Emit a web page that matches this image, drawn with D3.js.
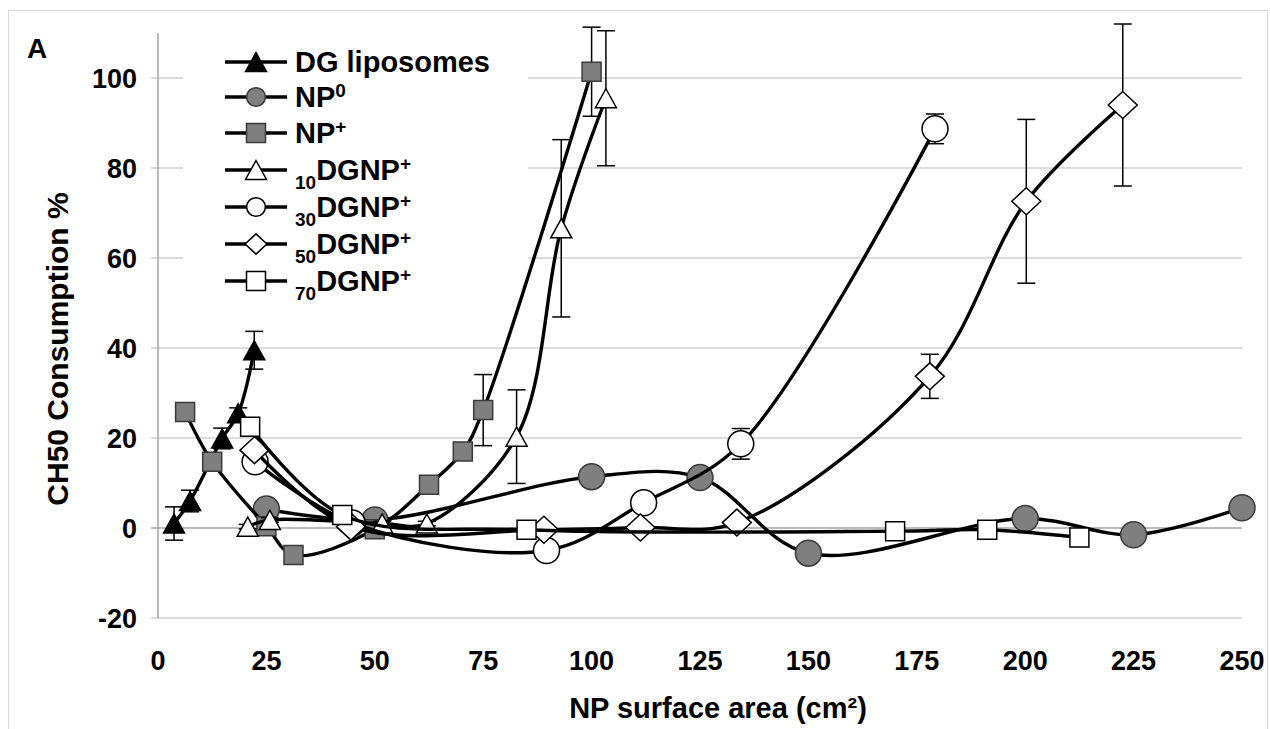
<!DOCTYPE html>
<html>
<head>
<meta charset="utf-8">
<script src="https://cdn.jsdelivr.net/npm/d3@7"></script>
<style>
  body { margin: 0; background: #fff; }
  text { font-family: "Liberation Sans", Arial, sans-serif; font-weight: bold; fill: #000; }
</style>
</head>
<body>
<svg id="chart" width="1270" height="729"></svg>
<script>
// values (x = NP surface area cm2, y = CH50 consumption %)
var dgX = [3.7, 7.4, 14.8, 18.5, 22.2];
var dgY = [1.0, 6.0, 19.9, 25.5, 39.5];
var dgErr = [3.7, 2.4, 2.3, 1.2, 4.2];

var np0X = [25, 50, 100, 125, 150, 200, 225, 250];
var np0Y = [4.2, 1.8, 11.4, 11.2, -5.6, 2.1, -1.5, 4.5];
var np0Err = [0.5, 0.5, 0.5, 0.5, 0.5, 0.5, 0.5, 0.5];

var npPlusX = [6.25, 12.5, 25, 31.25, 50, 62.5, 70.3, 75, 100];
var npPlusY = [25.8, 14.7, 0.4, -6.0, -0.3, 9.6, 17.0, 26.2, 101.4];
var npPlusErr = [0.5, 0.5, 0.5, 0.5, 0.5, 0.5, 0.5, 7.9, 9.9];

var dg10X = [20.7, 25.8, 51.7, 62, 82.7, 93, 103.3];
var dg10Y = [0.3, 1.8, 1.0, 1.0, 20.3, 66.6, 95.5];
var dg10Err = [0.5, 0.5, 0.5, 0.5, 10.4, 19.7, 15];

var dg30X = [22.4, 44.8, 89.6, 112, 134.4, 179.2];
var dg30Y = [14.7, 1.1, -5.0, 5.6, 18.7, 88.7];
var dg30Err = [0.5, 0.5, 0.5, 0.5, 3.4, 3.3];

var dg50X = [22.25, 44.5, 89, 111.25, 133.5, 178, 200.25, 222.5];
var dg50Y = [17.3, 0.3, -0.4, 0.1, 1.2, 33.7, 72.6, 94.0];
var dg50Err = [0.5, 0.5, 0.5, 0.5, 0.5, 4.9, 18.2, 18];

var dg70X = [21.25, 42.5, 85, 170, 191.25, 212.5];
var dg70Y = [22.5, 2.9, -0.4, -0.7, -0.4, -2.1];
var dg70Err = [0.5, 0.5, 0.5, 0.5, 0.5, 0.5];

var xTicks = [0, 25, 50, 75, 100, 125, 150, 175, 200, 225, 250];
var yTicks = [-20, 0, 20, 40, 60, 80, 100];

// legend labels: [subscript, main, superscript]
var seriesNames = [
  ["", "DG liposomes", ""],
  ["", "NP", "0"],
  ["", "NP", "+"],
  ["10", "DGNP", "+"],
  ["30", "DGNP", "+"],
  ["50", "DGNP", "+"],
  ["70", "DGNP", "+"]
];

var series = [
  { x: dgX, y: dgY, err: dgErr, shape: "triangle", fill: "#000" },
  { x: np0X, y: np0Y, err: np0Err, shape: "circle", fill: "#7f7f7f" },
  { x: npPlusX, y: npPlusY, err: npPlusErr, shape: "square", fill: "#7f7f7f" },
  { x: dg10X, y: dg10Y, err: dg10Err, shape: "triangle", fill: "#fff" },
  { x: dg30X, y: dg30Y, err: dg30Err, shape: "circle", fill: "#fff" },
  { x: dg50X, y: dg50Y, err: dg50Err, shape: "diamond", fill: "#fff" },
  { x: dg70X, y: dg70Y, err: dg70Err, shape: "square", fill: "#fff" }
];

var svg = d3.select("#chart");

// outer frame
svg.append("rect").attr("x", 8.5).attr("y", 10.5).attr("width", 1259).attr("height", 730)
  .attr("fill", "none").attr("stroke", "#d9d9d9").attr("stroke-width", 1);

var xScale = d3.scaleLinear().domain([0, 250]).range([158, 1242]);
var yScale = d3.scaleLinear().domain([-20, 110]).range([618, 33]);

// gridlines
svg.append("g").selectAll("line").data(yTicks).enter().append("line")
  .attr("x1", 151).attr("x2", xScale(250))
  .attr("y1", function (d) { return yScale(d); })
  .attr("y2", function (d) { return yScale(d); })
  .attr("stroke", function (d) { return d === 0 ? "#a6a6a6" : "#d0d0d0"; })
  .attr("stroke-width", 1.5);

// y axis line
svg.append("line").attr("x1", xScale(0)).attr("x2", xScale(0))
  .attr("y1", yScale(110)).attr("y2", yScale(-20))
  .attr("stroke", "#a6a6a6").attr("stroke-width", 1.5);

// y tick labels
svg.append("g").selectAll("text").data(yTicks).enter().append("text")
  .attr("x", 137).attr("y", function (d) { return yScale(d) + 10; })
  .attr("text-anchor", "end").attr("font-size", 27)
  .text(function (d) { return d; });

// x tick labels
svg.append("g").selectAll("text").data(xTicks).enter().append("text")
  .attr("x", function (d) { return xScale(d); }).attr("y", 670)
  .attr("text-anchor", "middle").attr("font-size", 27)
  .text(function (d) { return d; });

// axis titles
svg.append("text").attr("x", 718).attr("y", 718).attr("text-anchor", "middle")
  .attr("font-size", 29).text("NP surface area (cm\u00b2)");
svg.append("text").attr("transform", "translate(68,349) rotate(-90)")
  .attr("text-anchor", "middle").attr("font-size", 30).text("CH50 Consumption %");

// panel letter
svg.append("text").attr("x", 27).attr("y", 58).attr("font-size", 28).text("A");

// legend background hides gridlines behind it
svg.append("rect").attr("x", 183).attr("y", 38).attr("width", 345).attr("height", 262).attr("fill", "#fff");

function markerPath(shape, k) {
  var p = d3.path();
  if (shape === "circle") {
    var r = 13 * k;
    p.arc(0, 0, r, 0, Math.PI * 2);
  } else if (shape === "square") {
    var s = 9.5 * k;
    p.rect(-s, -s, 2 * s, 2 * s);
  } else if (shape === "triangle") {
    var w = 10.5 * k, h = 9.5 * k;
    p.moveTo(0, -h); p.lineTo(w, h); p.lineTo(-w, h); p.closePath();
  } else if (shape === "diamond") {
    var dw = 14.5 * k, dh = 13.5 * k;
    p.moveTo(0, -dh); p.lineTo(dw, 0); p.lineTo(0, dh); p.lineTo(-dw, 0); p.closePath();
  }
  return p.toString();
}

var line = d3.line()
  .x(function (d) { return xScale(d[0]); })
  .y(function (d) { return yScale(d[1]); })
  .curve(d3.curveCatmullRom.alpha(0.5));

series.forEach(function (s) {
  var pts = s.x.map(function (v, i) { return [v, s.y[i], s.err[i]]; });
  var g = svg.append("g");
  g.append("path").datum(pts).attr("d", line)
    .attr("fill", "none").attr("stroke", "#000").attr("stroke-width", 3.4);

  // error bars
  var eb = g.append("g").attr("stroke", "#000").attr("stroke-width", 1.5);
  pts.forEach(function (d) {
    var cx = xScale(d[0]), y1 = yScale(d[1] + d[2]), y2 = yScale(d[1] - d[2]);
    eb.append("line").attr("x1", cx).attr("x2", cx).attr("y1", y1).attr("y2", y2);
    eb.append("line").attr("x1", cx - 9).attr("x2", cx + 9).attr("y1", y1).attr("y2", y1);
    eb.append("line").attr("x1", cx - 9).attr("x2", cx + 9).attr("y1", y2).attr("y2", y2);
  });

  g.selectAll("path.mk").data(pts).enter().append("path").attr("class", "mk")
    .attr("transform", function (d) { return "translate(" + xScale(d[0]) + "," + yScale(d[1]) + ")"; })
    .attr("d", markerPath(s.shape, 1))
    .attr("fill", s.fill)
    .attr("stroke", s.fill === "#7f7f7f" ? "#3a3a3a" : "#000")
    .attr("stroke-width", 1.5);
});

// legend
var legendY = [62, 97, 133, 170, 207, 244, 281];
series.forEach(function (s, i) {
  var ly = legendY[i];
  svg.append("line").attr("x1", 225).attr("x2", 287).attr("y1", ly).attr("y2", ly)
    .attr("stroke", "#000").attr("stroke-width", 3.4);
  var k = s.shape === "circle" ? 0.72 : (s.shape === "diamond" ? 0.75 : 1);
  svg.append("path").attr("transform", "translate(256," + ly + ")")
    .attr("d", markerPath(s.shape, k))
    .attr("fill", s.fill)
    .attr("stroke", s.fill === "#7f7f7f" ? "#3a3a3a" : "#000")
    .attr("stroke-width", 1.5);

  var nm = seriesNames[i];
  var t = svg.append("text").attr("x", 295).attr("y", ly + 10).attr("font-size", 29);
  if (nm[0]) {
    t.append("tspan").attr("font-size", 19).attr("dy", 9).text(nm[0]);
    t.append("tspan").attr("dy", -9).text(nm[1]);
  } else {
    t.append("tspan").text(nm[1]);
  }
  if (nm[2]) {
    t.append("tspan").attr("font-size", 19).attr("dy", -10).text(nm[2]);
  }
});
</script>
</body>
</html>
